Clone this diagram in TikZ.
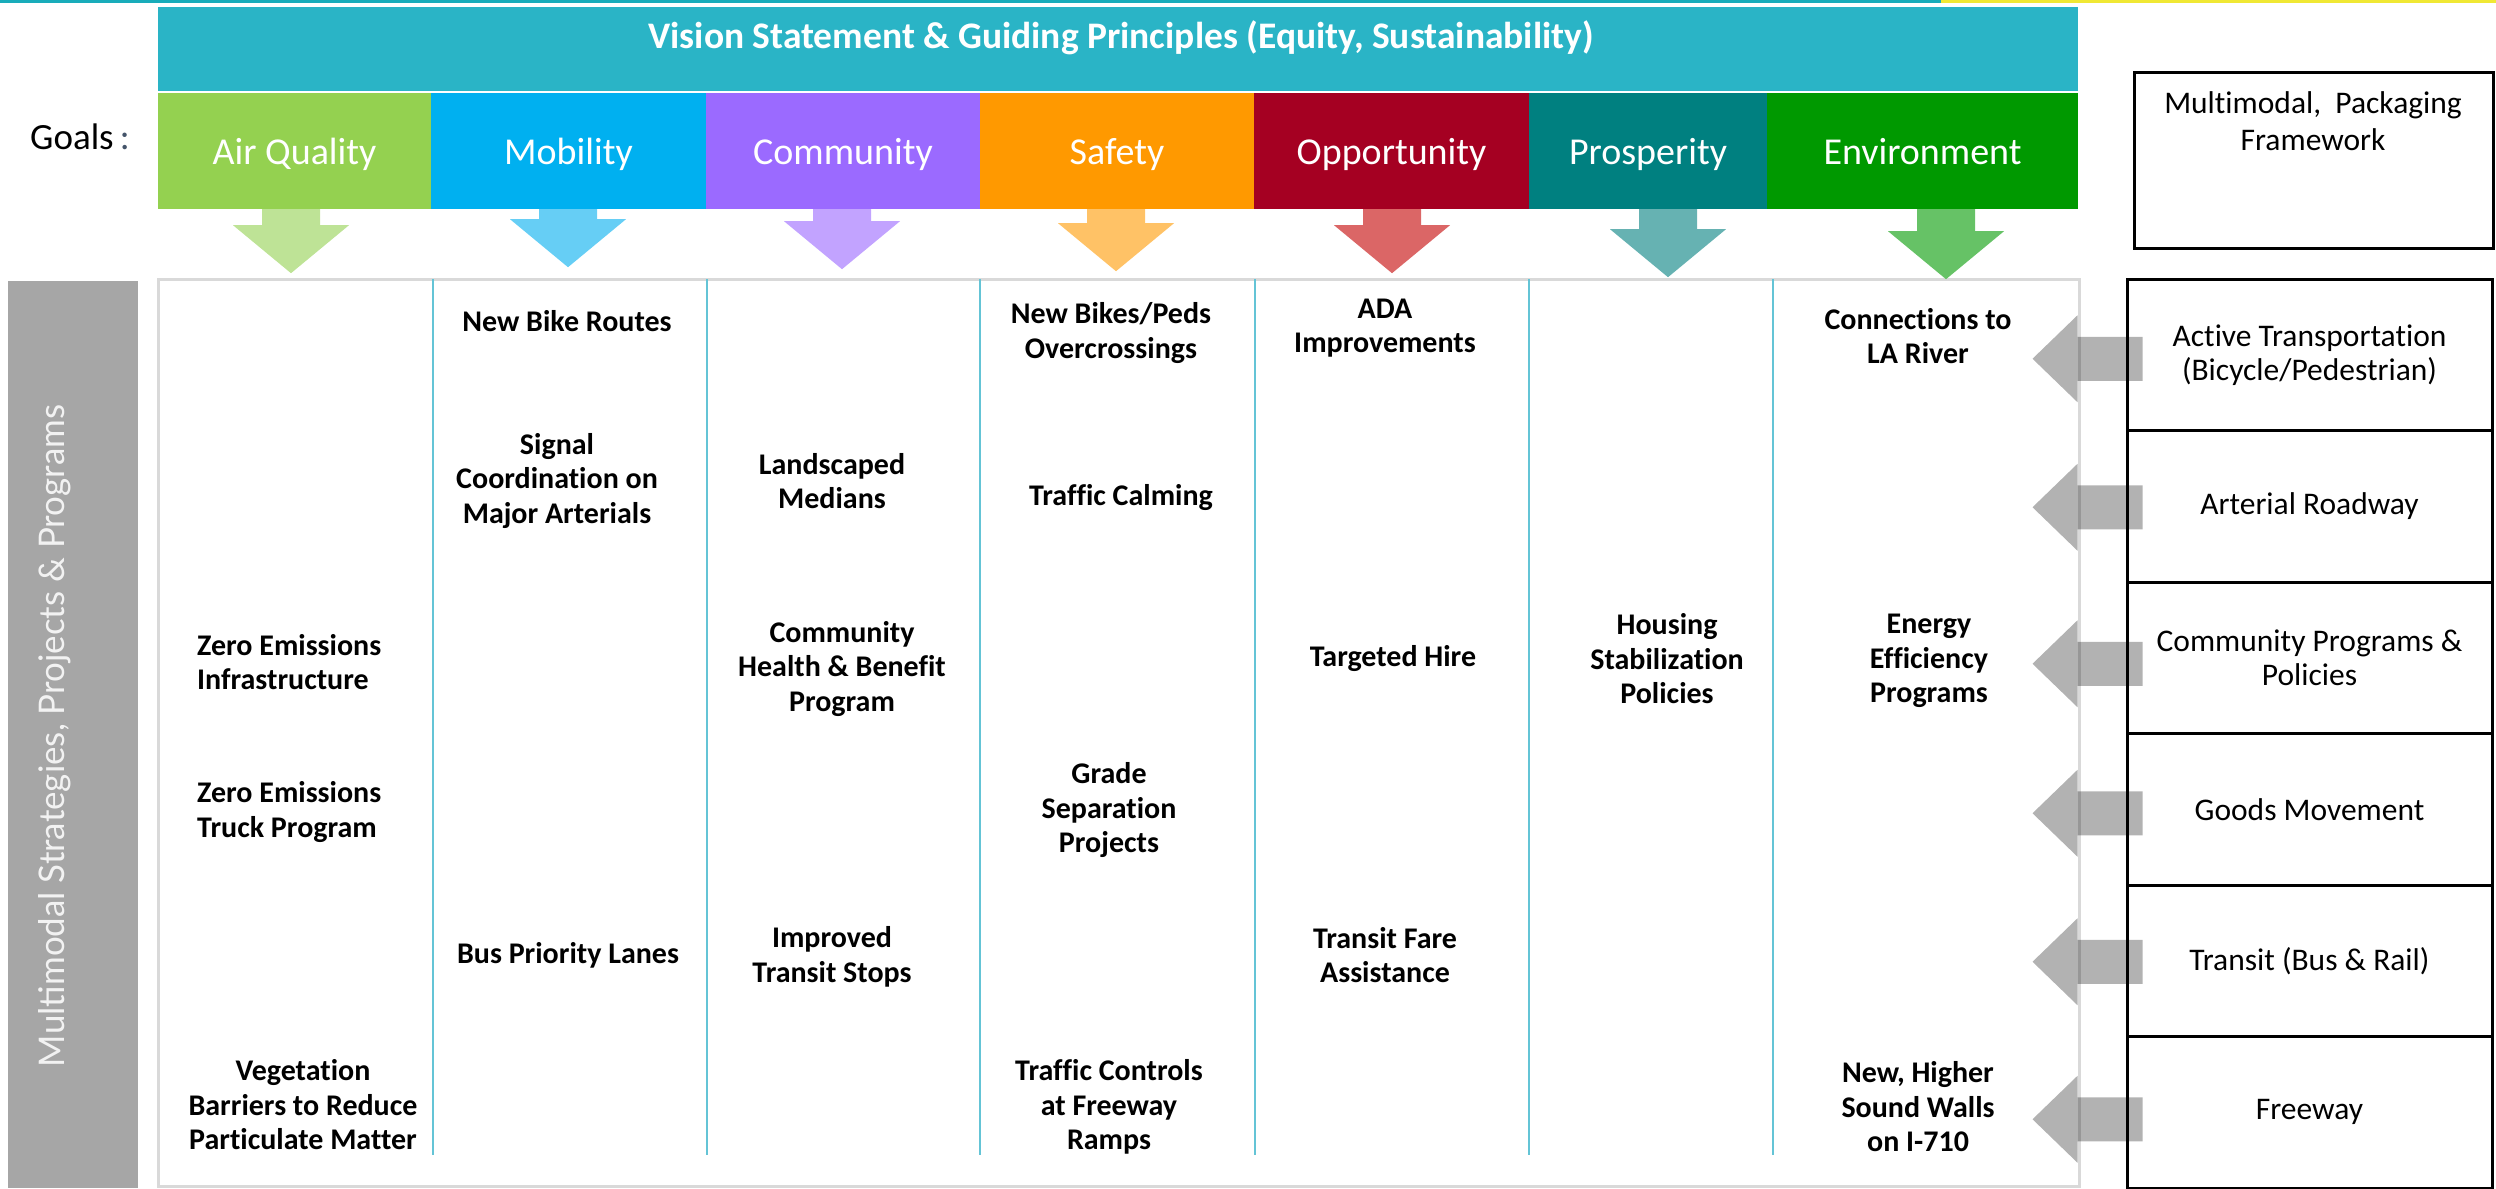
\documentclass[tikz,border=0pt]{standalone}
\usepackage{fontspec}
\setmainfont{Carlito}[Ligatures=NoCommon]
\newfontfamily\vfont{Lato}
\usetikzlibrary{calc}
\definecolor{bannerc}{RGB}{42,180,198}
\definecolor{topcyan}{RGB}{24,172,186}
\definecolor{topyellow}{RGB}{240,232,52}
\definecolor{aq}{RGB}{148,209,80}
\definecolor{mob}{RGB}{0,176,240}
\definecolor{com}{RGB}{155,106,255}
\definecolor{saf}{RGB}{255,153,0}
\definecolor{opp}{RGB}{165,0,34}
\definecolor{pro}{RGB}{0,128,128}
\definecolor{env}{RGB}{0,153,0}
\definecolor{aqA}{RGB}{190,227,150}
\definecolor{mobA}{RGB}{102,206,245}
\definecolor{comA}{RGB}{194,163,255}
\definecolor{safA}{RGB}{255,194,102}
\definecolor{oppA}{RGB}{219,102,102}
\definecolor{proA}{RGB}{102,178,178}
\definecolor{envA}{RGB}{102,194,102}
\definecolor{mainborder}{RGB}{217,217,217}
\definecolor{divc}{RGB}{100,196,214}
\definecolor{barc}{RGB}{166,166,166}
\definecolor{vtext}{RGB}{242,242,242}
\definecolor{colonc}{RGB}{68,84,106}
\begin{document}
\begin{tikzpicture}[x=1pt,y=-1pt,
  goal/.style={rectangle, inner sep=0, minimum height=116, text height=28pt, text depth=1.6pt, text=white, font=\fontsize{38}{42}\selectfont},
  item/.style={inner sep=0, align=center, font=\bfseries\fontsize{30}{34.5}\selectfont},
  rowbox/.style={draw=black, line width=3, minimum width=365, minimum height=151.5, inner sep=0, align=center, font=\fontsize{31.5}{34}\selectfont},
  divider/.style={draw=divc, line width=2},
  grayarrow/.style={fill=black, fill opacity=0.3}
]
\useasboundingbox (0,0) rectangle (2496,1188);
% top strip
\fill[topcyan] (0,0) rectangle (1941,3.5);
\fill[topyellow] (1941,0) rectangle (2496,3.5);
% banner
\node[rectangle, fill=bannerc, inner sep=0, minimum width=1920, minimum height=84] (vision) at (1118,49) {};
\node[inner sep=0, text=white, font=\bfseries\fontsize{37.5}{42}\selectfont] (visiontext) at (1121,38) {Vision Statement \& Guiding Principles (Equity, Sustainability)};
% goals label
\node[inner sep=0, font=\fontsize{37}{40}\selectfont] (goalslabel) at (80,137) {Goals\,{\color{colonc}:}};
% goal boxes
\node[goal, fill=aq,  minimum width=273] (g1) at (294.5,151) {Air Quality};
\node[goal, fill=mob, minimum width=275] (g2) at (568.5,151) {Mobility};
\node[goal, fill=com, minimum width=274] (g3) at (843,151) {Community};
\node[goal, fill=saf, minimum width=274] (g4) at (1117,151) {Safety};
\node[goal, fill=opp, minimum width=275] (g5) at (1391.5,151) {Opportunity};
\node[goal, fill=pro, minimum width=238] (g6) at (1648,151) {Prosperity};
\node[goal, fill=env, minimum width=311] (g7) at (1922.5,151) {Environment};
% main box
\node[draw=mainborder, line width=3, minimum width=1921, minimum height=907, inner sep=0] (mainbox) at (1118.5,732.5) {};
% column dividers
\foreach \xx in {433,707,980,1255,1529,1773} {
  \draw[divider] (\xx,279) -- (\xx,1155);
}
% goal arrows
\foreach \g/\dx/\hs/\c in {g1/-3.5/225/aqA, g2/-0.5/219/mobA, g3/-1/221/comA, g4/-1/223/safA, g5/0.5/225/oppA, g6/20/229/proA, g7/23.5/231/envA} {
  \fill[\c] ($(\g.south)+(\dx-29,0)$) -- ++(58,0) -- ++(0,\hs-209) -- ++(29,0) -- ++(-58,48) -- ++(-58,-48) -- ++(29,0) -- cycle;
}
% left gray bar
\node[rectangle, fill=barc, inner sep=0, minimum width=130, minimum height=907] (bar) at (73,734.5) {};
\node[inner sep=0, rotate=90, text=vtext] (bartext) at (55,736) {\resizebox{662pt}{26pt}{\vfont\fontsize{35}{40}\selectfont Multimodal Strategies, Projects \& Programs}};
% items column 1
\node[item, align=left, anchor=west] (i11) at (197,662) {Zero Emissions\\Infrastructure};
\node[item, align=left, anchor=west] (i12) at (197,812) {Zero Emissions\\Truck Program};
\node[item] (i13) at (303,1105) {Vegetation\\Barriers to Reduce\\Particulate Matter};
% column 2
\node[item] (i21) at (567,321) {New Bike Routes};
\node[item] (i22) at (557,481) {Signal\\Coordination on\\Major Arterials};
\node[item] (i23) at (568,955) {Bus Priority Lanes};
% column 3
\node[item] (i31) at (832,481) {Landscaped\\Medians};
\node[item] (i32) at (842,669) {Community\\Health \& Benefit\\Program};
\node[item] (i33) at (832,957) {Improved\\Transit Stops};
% column 4
\node[item] (i41) at (1111,333) {New Bikes/Peds\\Overcrossings};
\node[item] (i42) at (1121,498) {Traffic Calming};
\node[item] (i43) at (1109,810) {Grade\\Separation\\Projects};
\node[item] (i44) at (1109,1107) {Traffic Controls\\at Freeway\\Ramps};
% column 5
\node[item] (i51) at (1385,328) {ADA\\Improvements};
\node[item] (i52) at (1393,659) {Targeted Hire};
\node[item] (i53) at (1385,955) {Transit Fare\\Assistance};
% column 6
\node[item] (i61) at (1667,659) {Housing\\Stabilization\\Policies};
% column 7
\node[item] (i71) at (1918,336) {Connections to\\LA River};
\node[item] (i72) at (1929,661) {Energy\\Efficiency\\Programs};
\node[item] (i73) at (1918,1107) {New, Higher\\Sound Walls\\on I-710};
% packaging framework box
\node[draw=black, line width=3, minimum width=359, minimum height=175, inner sep=0] (pack) at (2313.5,160.5) {};
\node[inner sep=0, align=center, font=\fontsize{31.5}{37}\selectfont] (packtext) at (2313,121) {Multimodal,\ \ Packaging\\Framework};
% right column rows
\node[rowbox] (r1) at (2309.5,354.75) {Active Transportation\\(Bicycle/Pedestrian)};
\node[rowbox] (r2) at (2309.5,506.25) {Arterial Roadway};
\node[rowbox] (r3) at (2309.5,657.75) {Community Programs \&\\Policies};
\node[rowbox] (r4) at (2309.5,809.25) {Goods Movement};
\node[rowbox] (r5) at (2309.5,960.75) {Transit (Bus \& Rail)};
\node[rowbox] (r6) at (2309.5,1112.25) {Freeway};
% gray arrows pointing left
\foreach \r/\dy in {r1/4, r2/1, r3/6, r4/4, r5/1, r6/7} {
  \fill[grayarrow] ($(\r.west)+(17,\dy-22)$) -- ++(-65,0) -- ++(0,-21.5) -- ++(-45,43.5) -- ++(45,43.5) -- ++(0,-21.5) -- ++(65,0) -- cycle;
}
\end{tikzpicture}
\end{document}
